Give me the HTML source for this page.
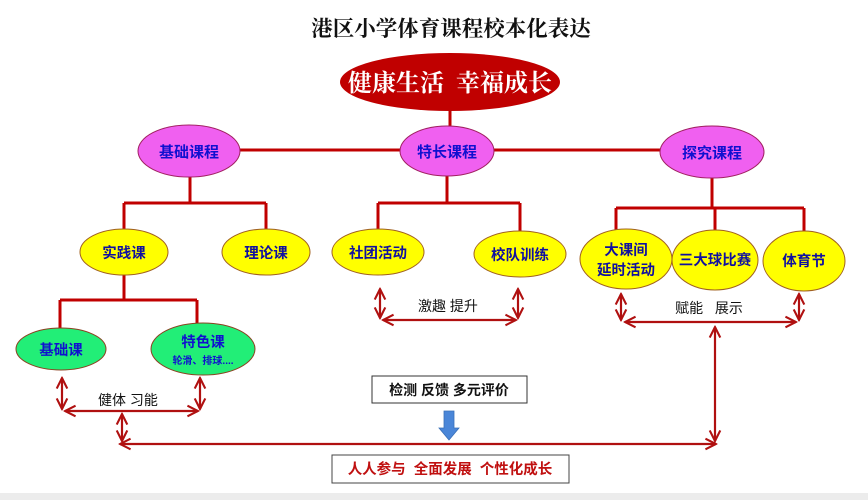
<!DOCTYPE html>
<html><head><meta charset="utf-8"><style>
html,body{margin:0;padding:0;background:#fff;width:868px;height:500px;overflow:hidden}
svg text{font-family:"Liberation Sans","Noto Sans CJK SC",sans-serif}
</style></head><body>
<svg width="868" height="500" viewBox="0 0 868 500" xmlns="http://www.w3.org/2000/svg">
<defs>
<marker id="ah" viewBox="0 0 10 10" refX="9" refY="5" markerWidth="6" markerHeight="6" orient="auto-start-reverse"><path d="M1,1 L9,5 L1,9" fill="none" stroke="#b01010" stroke-width="1.6"/></marker>
</defs>
<rect x="0" y="493" width="868" height="7" fill="#ececec"/>
<text x="451" y="36" font-size="21.5" font-weight="bold" text-anchor="middle" fill="#111" style="font-family:'Noto Serif CJK SC',serif">港区小学体育课程校本化表达</text>
<g stroke="#c00000" stroke-width="3" fill="none">
<path d="M450 110 V150 M240 150 H660"/>
<path d="M190 176 V203 M124 203 H266 M124 203 V232 M266 203 V232"/>
<path d="M447 176 V203 M378 203 H520 M378 203 V232 M520 203 V232"/>
<path d="M712 177 V208 M616 208 H804 M616 208 V232 M715 208 V232 M804 208 V236"/>
<path d="M124 274 V300 M60 300 H197 M60 300 V328 M197 300 V323"/>
</g>
<ellipse cx="450" cy="82" rx="110" ry="29" fill="#c00000"/>
<text x="450" y="91" font-size="24" text-anchor="middle" fill="#fff" style="font-family:'Noto Serif CJK SC',serif" font-weight="bold" xml:space="preserve">健康生活  幸福成长</text>
<g fill="#f060f0" stroke="#a02060" stroke-width="1">
<ellipse cx="189" cy="151" rx="51" ry="26"/>
<ellipse cx="447" cy="151" rx="47" ry="25"/>
<ellipse cx="712" cy="152" rx="52" ry="26"/>
</g>
<g font-size="15" font-weight="bold" fill="#1010d0" text-anchor="middle">
<text x="189" y="157">基础课程</text><text x="447" y="157">特长课程</text><text x="712" y="158">探究课程</text>
</g>
<g fill="#ffff00" stroke="#a06020" stroke-width="1">
<ellipse cx="124" cy="252" rx="44" ry="23"/>
<ellipse cx="266" cy="252" rx="44" ry="23"/>
<ellipse cx="378" cy="252" rx="46" ry="23"/>
<ellipse cx="520" cy="254" rx="46" ry="23"/>
<ellipse cx="626" cy="259" rx="46" ry="30"/>
<ellipse cx="715" cy="260" rx="43" ry="30"/>
<ellipse cx="804" cy="261" rx="41" ry="30"/>
</g>
<g font-size="14.5" font-weight="bold" fill="#1010a0" text-anchor="middle">
<text x="124" y="258">实践课</text><text x="266" y="258">理论课</text>
<text x="378" y="258">社团活动</text><text x="520" y="260">校队训练</text>
<text x="626" y="255">大课间</text><text x="626" y="275">延时活动</text>
<text x="715" y="265">三大球比赛</text><text x="804" y="266">体育节</text>
</g>
<g fill="#22ee77" stroke="#8b4020" stroke-width="1">
<ellipse cx="61" cy="349" rx="45" ry="21"/>
<ellipse cx="203" cy="349" rx="52" ry="26"/>
</g>
<g font-weight="bold" fill="#1010d0" text-anchor="middle">
<text x="61" y="355" font-size="14.5">基础课</text>
<text x="203" y="347" font-size="14.5">特色课</text>
<text x="203" y="364" font-size="10">轮滑、排球....</text>
</g>
<g stroke="#b01010" stroke-width="2.2" fill="none" marker-start="url(#ah)" marker-end="url(#ah)">
<path d="M62 378 V409"/><path d="M200 378 V409"/><path d="M65 411 H198"/>
<path d="M122 414 V441"/><path d="M120 444 H716"/>
<path d="M715 327 V441"/>
<path d="M380 289 V318"/><path d="M518 289 V318"/><path d="M383 320 H516"/>
<path d="M621 294 V320"/><path d="M799 294 V320"/><path d="M625 322 H796"/>
</g>
<g font-size="14" fill="#111" text-anchor="middle">
<text x="128" y="405" xml:space="preserve">健体 习能</text>
<text x="448" y="311" xml:space="preserve">激趣 提升</text>
<text x="709" y="313" xml:space="preserve">赋能   展示</text>
</g>
<rect x="372" y="376" width="155" height="27" fill="#fff" stroke="#333" stroke-width="1"/>
<text x="449" y="395" font-size="14" font-weight="bold" fill="#111" text-anchor="middle" xml:space="preserve">检测 反馈 多元评价</text>
<path d="M444 411 H454 V428 H459 L449 440 L439 428 H444 Z" fill="#4a86d8" stroke="#3a70b8" stroke-width="0.8"/>
<rect x="332" y="455" width="237" height="28" fill="#fff" stroke="#444" stroke-width="1"/>
<text x="450" y="474" font-size="14.5" font-weight="bold" fill="#c01010" text-anchor="middle" xml:space="preserve">人人参与  全面发展  个性化成长</text>
</svg>
</body></html>
